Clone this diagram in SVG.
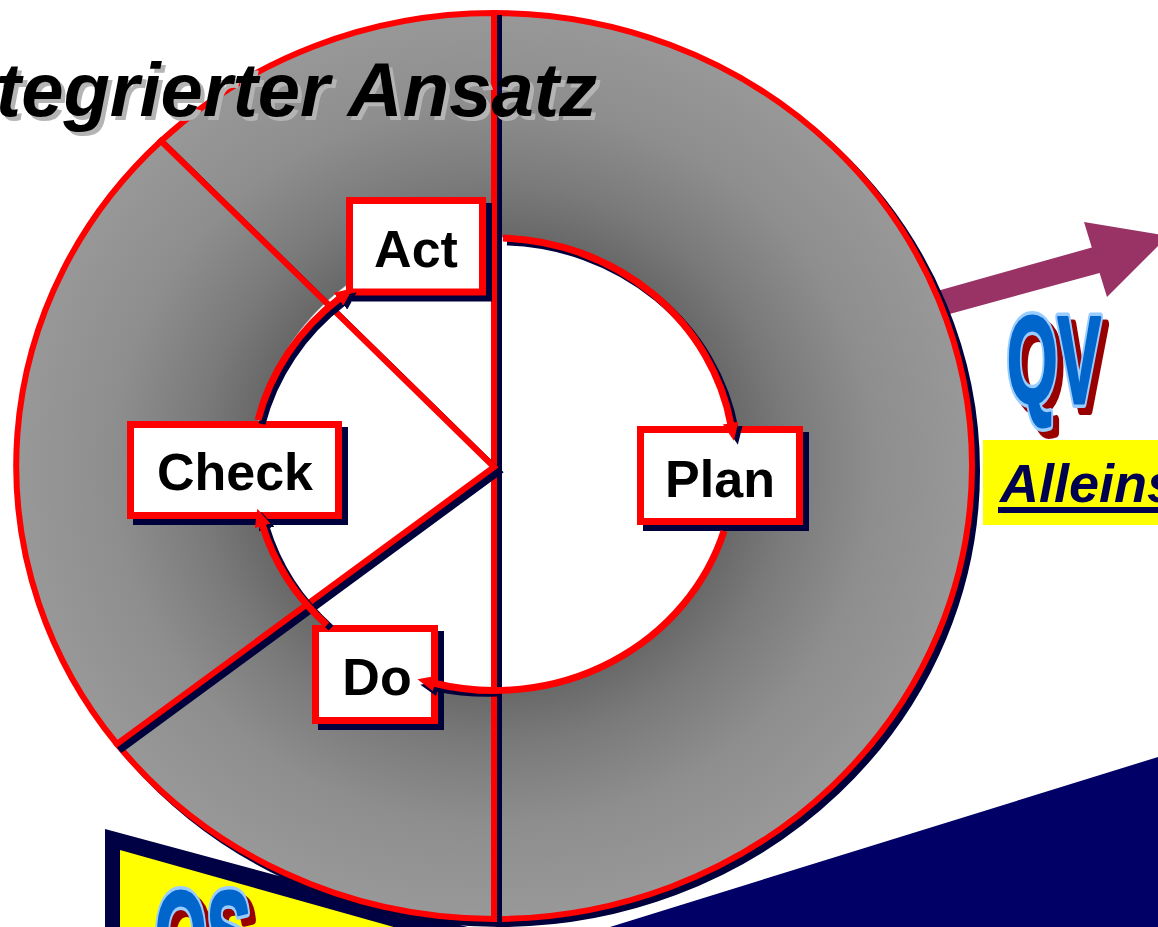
<svg xmlns="http://www.w3.org/2000/svg" width="1158" height="927" viewBox="0 0 1158 927">
  <defs>
    <!-- ring shading: white hub, dark inner rim fading lighter outwards -->
    <radialGradient id="ringFill" gradientUnits="userSpaceOnUse" cx="0" cy="0" r="1" gradientTransform="translate(494,464) scale(478,452)">
      <stop offset="0" stop-color="#ffffff"/>
      <stop offset="0.5" stop-color="#ffffff"/>
      <stop offset="0.503" stop-color="#686868"/>
      <stop offset="0.62" stop-color="#7a7a7a"/>
      <stop offset="0.8" stop-color="#8e8e8e"/>
      <stop offset="1" stop-color="#989898"/>
    </radialGradient>
    <marker id="headRed" viewBox="0 0 18 16" refX="2" refY="8" markerWidth="18" markerHeight="16" markerUnits="userSpaceOnUse" orient="auto">
      <path d="M0,0 L18,8 L0,16 z" fill="#ff0000"/>
    </marker>
    <marker id="headNavy" viewBox="0 0 18 16" refX="2" refY="8" markerWidth="18" markerHeight="16" markerUnits="userSpaceOnUse" orient="auto">
      <path d="M0,0 L18,8 L0,16 z" fill="#00003c"/>
    </marker>
    <style>
      .wedge { fill: url(#ringFill); stroke: #ff0000; stroke-width: 6; }
      .wedge-shadow { fill: #00003c; stroke: #00003c; stroke-width: 6; }
      .box { fill: #ffffff; stroke: #ff0000; stroke-width: 7; }
      .box-shadow { fill: #00003c; stroke: #00003c; stroke-width: 7; }
      .label { font-family: "Liberation Sans", Arial, sans-serif; font-weight: bold; font-size: 52px; fill: #000000; text-anchor: middle; }
      .cycle { fill: none; stroke: #ff0000; stroke-width: 7; marker-end: url(#headRed); }
      .cycle-shadow { fill: none; stroke: #00003c; stroke-width: 7; marker-end: url(#headNavy); }
      .big { font-family: "Liberation Sans", Arial, sans-serif; font-weight: bold; font-size: 125px; stroke-linejoin: round; }
      .big-shadow { fill: #990000; stroke: #990000; stroke-width: 10; }
      .big-rim { fill: #0066cc; stroke: #99ccff; stroke-width: 10; paint-order: stroke; }
      .big-face { fill: #0066cc; stroke: #0066cc; stroke-width: 3; }
    </style>
  </defs>

  <rect width="1158" height="927" fill="#ffffff"/>

  <!-- background panels -->
  <g id="navy-panel">
    <polygon points="1158,757 1158,927 610,927" fill="#000066"/>
  </g>
  <g id="qs-panel">
    <polygon points="105,829 760,1006 105,1006" fill="#000044"/>
    <polygon points="120,850 760,1030 120,1030" fill="#ffff00"/>
    <text class="big big-shadow" x="161" y="985" textLength="96" lengthAdjust="spacingAndGlyphs">QS</text>
    <text class="big big-rim" x="155" y="978" textLength="96" lengthAdjust="spacingAndGlyphs">QS</text>
    <text class="big big-face" x="155" y="978" textLength="96" lengthAdjust="spacingAndGlyphs">QS</text>
  </g>

  <!-- outgoing QV arrow -->
  <g id="qv-arrow">
    <polygon points="930,293 1091.8,247.5 1084,222 1168,236 1107,297 1099.6,272.9 935,318" fill="#993366"/>
  </g>

  <!-- PDCA ring, drawn as four pie sectors -->
  <g id="ring">
    <path class="wedge-shadow" transform="translate(5,5)" d="M494,467 L494,13 A478,453 0 0 1 972,466 A478,453 0 0 1 494,919 Z"/>
    <path id="sector-plan" class="wedge" d="M494,467 L494,13 A478,453 0 0 1 972,466 A478,453 0 0 1 494,919 Z"/>
    <path class="wedge-shadow" transform="translate(5,5)" d="M494,467 L494,919 A478,453 0 0 1 117,744 Z"/>
    <path id="sector-do" class="wedge" d="M494,467 L494,919 A478,453 0 0 1 117,744 Z"/>
    <path class="wedge-shadow" transform="translate(5,5)" d="M494,467 L161,141 A478,453 0 0 1 494,13 Z"/>
    <path id="sector-act" class="wedge" d="M494,467 L161,141 A478,453 0 0 1 494,13 Z"/>
    <path class="wedge-shadow" transform="translate(5,5)" d="M494,467 L117,744 A478,453 0 0 1 161,141 Z"/>
    <path id="sector-check" class="wedge" d="M494,467 L117,744 A478,453 0 0 1 161,141 Z"/>
  </g>

  <g id="node-act">
    <rect class="box-shadow" x="355.5" y="206.5" width="133" height="91.5"/>
    <rect class="box" x="349.5" y="200.5" width="133" height="91.5"/>
    <text class="label" x="416" y="267">Act</text>
  </g>
  <g id="node-check">
    <rect class="box-shadow" x="136.5" y="430.5" width="208" height="91"/>
    <rect class="box" x="130.5" y="424.5" width="208" height="91"/>
    <text class="label" x="235" y="490">Check</text>
  </g>
  <g id="node-do">
    <rect class="box-shadow" x="321.5" y="634.5" width="119" height="92"/>
    <rect class="box" x="315.5" y="628.5" width="119" height="92"/>
    <text class="label" x="377" y="695">Do</text>
  </g>
  <g id="node-plan">
    <rect class="box-shadow" x="646.5" y="435.5" width="159" height="92"/>
    <rect class="box" x="640.5" y="429.5" width="159" height="92"/>
    <text class="label" x="720" y="497">Plan</text>
  </g>

  <!-- cycle arrows between the phases, drawn over the boxes -->
  <g id="connectors">
    <path class="cycle-shadow" transform="translate(4,4)" d="M503,238 A240,225 0 0 1 731,425"/>
    <path class="cycle" d="M503,238 A240,225 0 0 1 731,425"/>
    <path class="cycle-shadow" transform="translate(3,5)" d="M494,688 A240,225 0 0 1 433,683"/>
    <path class="cycle" d="M724,531 A240,225 0 0 1 433,683"/>
    <path class="cycle-shadow" transform="translate(4,3)" d="M327,625 A240,225 0 0 1 262,524"/>
    <path class="cycle" d="M327,625 A240,225 0 0 1 262,524"/>
    <path class="cycle-shadow" transform="translate(4,4)" d="M258,420 A240,225 0 0 1 340,298"/>
    <path class="cycle" d="M258,420 A240,225 0 0 1 340,298"/>
  </g>

  <g id="title">
    <text x="601" y="120" text-anchor="end" font-family="Liberation Sans, Arial, sans-serif" font-weight="bold" font-style="italic" font-size="76" fill="#b4b4b4">Integrierter Ansatz</text>
    <text x="597" y="116" text-anchor="end" font-family="Liberation Sans, Arial, sans-serif" font-weight="bold" font-style="italic" font-size="76" fill="#000000">Integrierter Ansatz</text>
  </g>

  <g id="qv-label">
    <text class="big big-shadow" x="1013" y="410" textLength="94" lengthAdjust="spacingAndGlyphs">QV</text>
    <text class="big big-rim" x="1007" y="403" textLength="94" lengthAdjust="spacingAndGlyphs">QV</text>
    <text class="big big-face" x="1007" y="403" textLength="94" lengthAdjust="spacingAndGlyphs">QV</text>
  </g>

  <g id="usp-banner">
    <rect x="983" y="440" width="175" height="85" fill="#ffff00"/>
    <text x="1000" y="502" font-family="Liberation Sans, Arial, sans-serif" font-weight="bold" font-style="italic" font-size="54" fill="#000050">Alleins</text>
    <rect x="998" y="507" width="160" height="6" fill="#000050"/>
  </g>
</svg>
